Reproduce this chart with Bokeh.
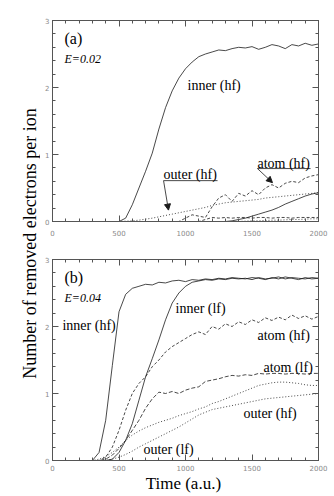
import math
from bokeh.plotting import figure
from bokeh.models import Range1d, LinearAxis, Label, Arrow, NormalHead, SingleIntervalTicker
from bokeh.layouts import row, column
from bokeh.embed import file_html
from bokeh.resources import INLINE

# ---------------- data ----------------
TIME = [0, 50, 100, 150, 200, 250, 300, 350, 400, 450, 500, 550, 600, 650, 700, 750,
        800, 850, 900, 950, 1000, 1050, 1100, 1150, 1200, 1250, 1300, 1350, 1400, 1450,
        1500, 1550, 1600, 1650, 1700, 1750, 1800, 1850, 1900, 1950, 2000]

# panel (a)  E = 0.02
inner_hf_a = [0]*11 + [0.05, 0.25, 0.5, 0.75, 1.02, 1.38, 1.7, 1.95, 2.14, 2.28,
                       2.38, 2.46, 2.5, 2.53, 2.56, 2.55, 2.58, 2.6, 2.59, 2.61,
                       2.57, 2.6, 2.64, 2.62, 2.58, 2.64, 2.62, 2.66, 2.63, 2.65]
inner_lf_a = [0]*27 + [0.01, 0.03, 0.05, 0.08, 0.11, 0.14, 0.17, 0.21, 0.26, 0.3,
                       0.34, 0.38, 0.41, 0.43]
atom_hf_a = [0]*20 + [0.05, 0.1, 0.08, 0.06, 0.22, 0.35, 0.4, 0.3, 0.42, 0.38, 0.46,
                      0.4, 0.5, 0.55, 0.5, 0.57, 0.6, 0.58, 0.65, 0.68, 0.7]
atom_lf_a = [0]*23 + [0.03, 0.06, 0.05, 0.06, 0.05, 0.06, 0.06, 0.05, 0.06, 0.06,
                      0.05, 0.06, 0.06, 0.05, 0.06, 0.06, 0.06, 0.06]
outer_hf_a = [0]*11 + [0.005, 0.01, 0.02, 0.035, 0.05, 0.07, 0.09, 0.11, 0.13, 0.15,
                       0.17, 0.19, 0.21, 0.24, 0.26, 0.28, 0.29, 0.3, 0.31, 0.32,
                       0.33, 0.35, 0.36, 0.37, 0.38, 0.39, 0.4, 0.41, 0.42, 0.43]
outer_lf_a = [0]*29 + [0.005, 0.01, 0.01, 0.015, 0.02, 0.02, 0.025, 0.03, 0.03,
                       0.035, 0.04, 0.04]

# panel (b)  E = 0.04
inner_hf_b = [0]*7 + [0.12, 0.6, 1.42, 2.22, 2.48, 2.57, 2.6, 2.63, 2.62, 2.66, 2.65,
                      2.68, 2.69, 2.67, 2.7, 2.69, 2.71, 2.7, 2.72, 2.71, 2.73, 2.72,
                      2.71, 2.73, 2.72, 2.7, 2.73, 2.71, 2.74, 2.72, 2.7, 2.73, 2.71, 2.72]
inner_lf_b = [0]*9 + [0.02, 0.12, 0.3, 0.55, 0.9, 1.25, 1.52, 1.8, 2.1, 2.35, 2.5,
                      2.6, 2.66, 2.68, 2.7, 2.69, 2.71, 2.7, 2.72, 2.71, 2.72, 2.7,
                      2.73, 2.71, 2.72, 2.74, 2.71, 2.73, 2.72, 2.71, 2.73, 2.72]
atom_hf_b = [0]*8 + [0.05, 0.2, 0.45, 0.75, 1.0, 1.15, 1.25, 1.4, 1.5, 1.62, 1.7,
                     1.76, 1.82, 1.88, 1.92, 1.88, 2.0, 1.96, 2.04, 2.0, 2.07, 2.03,
                     2.1, 2.06, 2.13, 2.09, 2.14, 2.1, 2.17, 2.12, 2.16, 2.11, 2.15]
atom_lf_b = [0]*8 + [0.02, 0.08, 0.18, 0.3, 0.45, 0.6, 0.78, 0.92, 1.02, 1.0, 1.03,
                     1.0, 1.05, 1.08, 1.1, 1.18, 1.2, 1.22, 1.25, 1.27, 1.26, 1.28,
                     1.27, 1.3, 1.29, 1.3, 1.3, 1.29, 1.3, 1.3, 1.29, 1.3, 1.3]
outer_hf_b = [0]*7 + [0.02, 0.06, 0.12, 0.2, 0.3, 0.38, 0.44, 0.49, 0.53, 0.57, 0.6,
                      0.63, 0.67, 0.7, 0.73, 0.77, 0.8, 0.85, 0.88, 0.92, 0.96, 1.0,
                      1.04, 1.08, 1.12, 1.14, 1.16, 1.17, 1.17, 1.16, 1.15, 1.13, 1.12, 1.12]
outer_lf_b = [0]*9 + [0.02, 0.05, 0.09, 0.14, 0.2, 0.25, 0.3, 0.35, 0.4, 0.45, 0.5,
                      0.56, 0.62, 0.68, 0.72, 0.76, 0.78, 0.8, 0.82, 0.84, 0.86, 0.88,
                      0.9, 0.92, 0.93, 0.94, 0.95, 0.96, 0.97, 0.98, 0.99, 1.0]

# text labels: (text, x, y)
LABELS_A = [("inner (hf)", 1015, 2.03), ("outer (hf)", 835, 0.70), ("atom (hf)", 1541, 0.87)]
LABELS_B = [("inner (hf)", 75, 2.01), ("inner (lf)", 925, 2.27), ("atom (hf)", 1541, 1.87),
            ("atom (lf)", 1586, 1.39), ("outer (hf)", 1436, 0.70), ("outer (lf)", 684, 0.16)]
# underline segments + arrows in panel (a): x0, x1, y, arrow tip x, arrow tip y
POINTERS_A = [(835, 1241, 0.61, 872, 0.17), (1541, 1940, 0.79, 1654, 0.58)]

SERIF = "Liberation Serif"
INK = "#1a1a1a"
FRAME = "#555555"


def style_axis(ax, show_labels, standoff=3):
    ax.major_tick_in = 6
    ax.major_tick_out = 0
    ax.minor_tick_in = 3
    ax.minor_tick_out = 0
    ax.axis_line_color = FRAME
    ax.major_tick_line_color = FRAME
    ax.minor_tick_line_color = FRAME
    if show_labels:
        ax.major_label_text_font = "DejaVu Sans"
        ax.major_label_text_font_size = "7px"
        ax.major_label_text_color = "#8a8a8a"
        ax.major_label_standoff = standoff
    else:
        ax.major_label_text_font_size = "1px"
        ax.major_label_text_color = None
        ax.major_label_standoff = 0


def panel(tag, efield, series, labels, top_border, bottom_border, x_standoff, xlabel=None):
    p = figure(frame_width=266, frame_height=201, x_range=Range1d(0, 2000), y_range=Range1d(0, 3),
               output_backend="svg", toolbar_location=None,
               min_border_left=12, min_border_right=12,
               min_border_top=top_border, min_border_bottom=bottom_border)
    p.grid.visible = False
    p.outline_line_color = FRAME
    bottom = p.xaxis[0]
    left = p.yaxis[0]
    bottom.ticker = SingleIntervalTicker(interval=500, num_minor_ticks=5)
    left.ticker = SingleIntervalTicker(interval=1, num_minor_ticks=5)
    style_axis(bottom, True, x_standoff)
    style_axis(left, True, 3)
    if xlabel:
        bottom.axis_label = xlabel
        bottom.axis_label_text_font = SERIF
        bottom.axis_label_text_font_style = "normal"
        bottom.axis_label_text_font_size = "17px"
        bottom.axis_label_text_color = "black"
        bottom.axis_label_standoff = 0
    top = LinearAxis(ticker=SingleIntervalTicker(interval=500, num_minor_ticks=5))
    right = LinearAxis(ticker=SingleIntervalTicker(interval=1, num_minor_ticks=5))
    style_axis(top, False)
    style_axis(right, False)
    p.add_layout(top, "above")
    p.add_layout(right, "right")

    for ys, dash in series:
        p.line(TIME, ys, line_color=INK, line_width=0.8, line_dash=dash)

    p.add_layout(Label(x=90, y=2.73, text=tag, text_font=SERIF, text_font_size="16px",
                       text_baseline="middle", text_color="black"))
    p.add_layout(Label(x=90, y=2.42, text=efield, text_font=SERIF, text_font_size="12px",
                       text_font_style="italic", text_baseline="middle", text_color="black"))
    for txt, x, y in labels:
        p.add_layout(Label(x=x, y=y, text=txt, text_font=SERIF, text_font_size="14px",
                           text_baseline="middle", text_color="black"))
    return p


pa = panel("(a)", "E=0.02",
           [(inner_hf_a, "solid"), (inner_lf_a, "solid"), (atom_hf_a, "3 2"),
            (atom_lf_a, "3 2"), (outer_hf_a, "1 2"), (outer_lf_a, "1 2")],
           LABELS_A, 20, 19, 8)
for x0, x1, y, xt, yt in POINTERS_A:
    pa.segment(x0=[x0], y0=[y], x1=[x1], y1=[y], line_color=INK, line_width=0.8)
    pa.add_layout(Arrow(end=NormalHead(size=6, fill_color=INK, line_color=INK),
                        x_start=x0, y_start=y, x_end=xt, y_end=yt,
                        line_color=INK, line_width=0.8))

pb = panel("(b)", "E=0.04",
           [(inner_hf_b, "solid"), (inner_lf_b, "solid"), (atom_hf_b, "3 2"),
            (atom_lf_b, "4 2"), (outer_hf_b, "1 2"), (outer_lf_b, "1 2")],
           LABELS_B, 19, 32, 4, xlabel="Time  (a.u.)")

# shared y-axis title
lab = figure(width=40, height=494, x_range=Range1d(0, 40), y_range=Range1d(0, 494),
             output_backend="svg", toolbar_location=None, min_border=0,
             x_axis_type=None, y_axis_type=None)
lab.grid.visible = False
lab.outline_line_color = None
lab.add_layout(Label(x=29, y=251, text="Number of removed electrons per ion", angle=math.pi / 2,
                     text_font=SERIF, text_font_size="18px", text_align="center",
                     text_baseline="middle", text_color="black"))

layout = row(lab, column(pa, pb))
open("out.html", "w").write(file_html(layout, INLINE))
